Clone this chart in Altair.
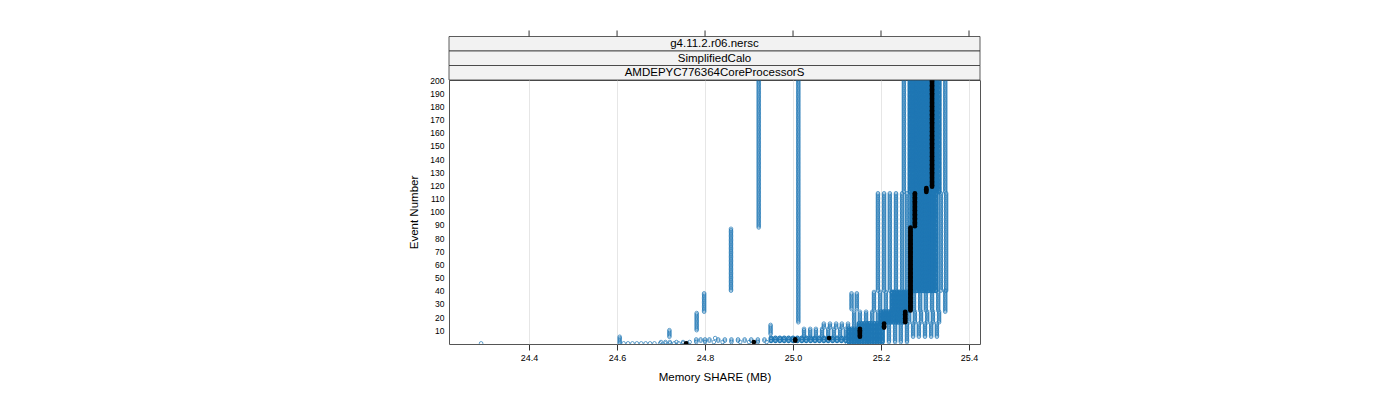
import altair as alt
import pandas as pd

# ---------------- data ----------------
x_ticks = [24.4, 24.6, 24.8, 25.0, 25.2, 25.4]
y_ticks = [10, 20, 30, 40, 50, 60, 70, 80, 90, 100,
           110, 120, 130, 140, 150, 160, 170, 180, 190, 200]
strip_labels = ["g4.11.2.r06.nersc", "SimplifiedCalo", "AMDEPYC776364CoreProcessorS"]

# each block: (first event, last event, Memory SHARE values in MB)
# --- isolated runs / sparse columns ---
run_left = [
    (0, 0, [24.291]),
    (0, 5, [24.606]),
    (5, 10, [24.719]),
    (10, 23, [24.781]),
    (24, 38, [24.798]),
    (40, 87, [24.859]),
    (88, 200, [24.922]),
]
run_second = [
    (7, 14, [24.949]),
    (16, 200, [25.012]),
]
early_events = [
    (4, 4, [24.823]),
    (0, 0, [24.615, 24.625, 24.635, 24.645, 24.655, 24.665, 24.675, 24.685,
            24.698, 24.71, 24.72, 24.73, 24.74, 24.75, 24.76,
            25.123, 25.135, 25.146]),
    (1, 1, [24.70, 24.71, 24.72, 24.735, 24.75, 24.765, 24.78, 24.80, 24.82,
            24.84, 24.86, 24.88, 24.90, 24.92, 24.94]),
    (2, 3, [24.78, 24.79, 24.80, 24.81, 24.83, 24.845, 24.86, 24.875, 24.89,
            24.905, 24.92, 24.935]),
    (1, 4, [25.218, 25.232, 25.245, 25.259]),
]
sparse_columns = [
    (5, 11, [25.025, 25.039, 25.052, 25.066, 25.080, 25.093, 25.107, 25.120]),
    (5, 11, [25.218, 25.232, 25.245, 25.259, 25.273, 25.286, 25.300, 25.314, 25.327]),
    (12, 15, [25.070, 25.084, 25.098, 25.111, 25.125, 25.139]),
    (12, 15, [25.218, 25.232, 25.245, 25.259, 25.273, 25.286, 25.300, 25.314, 25.327]),
    (16, 24, [25.139, 25.152, 25.166, 25.180, 25.193]),
    (16, 24, [25.264, 25.277, 25.291, 25.305, 25.318, 25.332]),
    (25, 39, [25.184, 25.198, 25.211]),
    (25, 39, [25.275, 25.289, 25.302, 25.316, 25.330]),
    (26, 38, [25.133, 25.145]),
    (24, 40, [25.346]),
    (40, 114, [25.193, 25.207, 25.220, 25.234, 25.248, 25.259]),
    (40, 114, [25.336, 25.348]),
    (115, 200, [25.252]),
    (115, 200, [25.346]),
]
# --- dense (heavily overlapping) regions ---
dense_columns = [
    (2, 4, [24.95, 24.96, 24.97, 24.98, 24.99, 25.00, 25.01, 25.02, 25.03,
            25.04, 25.05, 25.06, 25.07, 25.08, 25.09, 25.10, 25.11, 25.12]),
    (1, 11, [25.127, 25.133, 25.139, 25.145, 25.150, 25.156, 25.162, 25.168,
             25.173, 25.179, 25.185, 25.191, 25.197, 25.203]),
    (12, 15, [25.150, 25.156, 25.162, 25.168, 25.173, 25.179, 25.185, 25.191,
              25.197, 25.203]),
    (16, 24, [25.200, 25.206, 25.211, 25.217, 25.222, 25.228, 25.234, 25.239,
              25.245, 25.250]),
    (25, 39, [25.225, 25.230, 25.236, 25.241, 25.247, 25.252, 25.258, 25.263]),
    (40, 114, [25.270, 25.275, 25.281, 25.286, 25.292, 25.297, 25.303, 25.308,
               25.314, 25.319, 25.325]),
    (115, 200, [25.266, 25.271, 25.277, 25.282, 25.288, 25.293, 25.299, 25.304,
                25.310, 25.315, 25.321, 25.326, 25.332]),
]
# black reference points (per event)
median_blocks = [
    (0, 0, [24.757]),
    (1, 1, [24.911]),
    (2, 3, [25.005]),
    (4, 4, [25.082]),
    (5, 11, [25.152]),
    (12, 15, [25.207]),
    (16, 24, [25.255]),
    (25, 88, [25.267]),
    (89, 114, [25.277]),
    (115, 118, [25.303]),
    (119, 200, [25.316]),
]


def expand(blocks):
    rows = []
    for ev0, ev1, xs in blocks:
        for x in xs:
            for ev in range(ev0, ev1 + 1):
                rows.append({"share": x, "event": ev})
    return pd.DataFrame(rows)


sparse = expand(run_left + run_second + early_events + sparse_columns)
dense = expand(dense_columns)
med = expand(median_blocks)

W, H = 531, 264
STRIP = 14.5
FONT = "Liberation Sans"
BLUE = "#1f77b4"

xscale = alt.Scale(domain=[24.218, 25.425], nice=False, zero=False)
yscale = alt.Scale(domain=[-0.5, 200], nice=False, zero=False)

x_axis = alt.Axis(values=x_ticks, format=".1f", title="Memory SHARE (MB)",
                  grid=True, gridColor="#e6e6e6", gridWidth=1,
                  tickSize=6, tickColor="#333333", domain=False,
                  labelFontSize=9, labelPadding=3,
                  titleFontSize=11.5, titleFontWeight="normal", titlePadding=9)
y_axis = alt.Axis(values=y_ticks, title="Event Number", grid=False, ticks=False,
                  domain=False, labelFontSize=8.5, labelPadding=5,
                  titleFontSize=11.5, titleFontWeight="normal", titlePadding=10)

enc = dict(
    x=alt.X("share:Q", scale=xscale, axis=x_axis),
    y=alt.Y("event:Q", scale=yscale, axis=y_axis),
)

pts_sparse = alt.Chart(sparse).mark_point(
    shape="circle", filled=False, size=13, strokeWidth=0.7,
    color=BLUE, opacity=1, clip=True
).encode(**enc)

pts_dense = alt.Chart(dense).mark_point(
    shape="circle", filled=False, size=14, strokeWidth=1.2,
    color=BLUE, opacity=1, clip=True
).encode(**enc)

meds = alt.Chart(med).mark_circle(size=22, color="black", opacity=1, clip=True).encode(**enc)

strip_layers = []
for i, lab in enumerate(strip_labels):
    y0 = -3 * STRIP + i * STRIP
    d = pd.DataFrame({"label": [lab]})
    strip_layers.append(
        alt.Chart(d).mark_rect(fill="#f2f2f2", stroke="#333333", strokeWidth=0.8).encode(
            x=alt.value(0), x2=alt.value(W), y=alt.value(y0), y2=alt.value(y0 + STRIP)
        )
    )
    strip_layers.append(
        alt.Chart(d).mark_text(fontSize=11.5, font=FONT, color="black",
                               align="center", baseline="middle").encode(
            x=alt.value(W / 2), y=alt.value(y0 + STRIP / 2 + 0.5), text="label:N"
        )
    )

top_ticks = alt.Chart(pd.DataFrame({"share": x_ticks})).mark_rule(
    color="#333333", strokeWidth=1
).encode(
    x=alt.X("share:Q", scale=xscale, axis=x_axis),
    y=alt.value(-3 * STRIP - 6),
    y2=alt.value(-3 * STRIP),
)

chart = alt.layer(pts_sparse, pts_dense, meds, *strip_layers, top_ticks).properties(
    width=W, height=H,
    autosize=alt.AutoSizeParams(type="none"),
    padding={"left": 441, "top": 72, "right": 412, "bottom": 40},
).configure_view(
    stroke="#555555", strokeWidth=1
).configure_axis(
    labelFont=FONT, titleFont=FONT, labelColor="black", titleColor="black"
)

chart.save("out.html", embed_options={"renderer": "svg", "actions": False})
